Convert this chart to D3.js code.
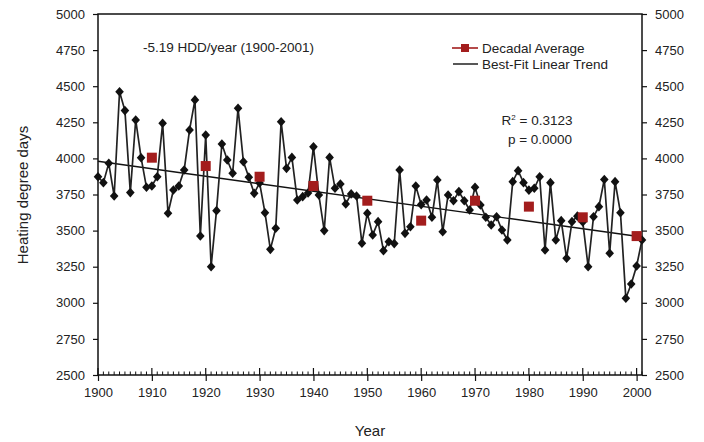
<!DOCTYPE html>
<html><head><meta charset="utf-8">
<script src="https://cdn.jsdelivr.net/npm/d3@7"></script>
<style>
html,body{margin:0;padding:0;background:#fff;}
svg text{font-family:"Liberation Sans",Arial,Helvetica,sans-serif;fill:#222;}
</style></head>
<body>
<svg id="chart" width="704" height="442"></svg>
<script>
const years = d3.range(1900, 2002);
const hdd = [
3873,3832,3966,3740,4462,4331,3763,4266,4005,3800,
3809,3873,4243,3620,3781,3809,3920,4197,4405,3463,
4162,3250,3638,4100,3989,3897,4347,3977,3870,3758,
3830,3624,3370,3516,4254,3931,4007,3712,3735,3760,
4080,3747,3500,4007,3793,3823,3684,3754,3740,3412,
3620,3470,3562,3361,3423,3410,3920,3481,3527,3809,
3680,3712,3592,3850,3492,3747,3707,3770,3707,3643,
3800,3677,3592,3539,3596,3504,3435,3839,3915,3832,
3780,3793,3873,3366,3832,3435,3569,3308,3562,3600,
3560,3250,3596,3666,3854,3343,3839,3624,3031,3130,
3255,3435];
const decadeYears = [1910,1920,1930,1940,1950,1960,1970,1980,1990,2000];
const decadeAvg = [4005,3947,3873,3809,3707,3569,3707,3666,3592,3462];
const trendYears = [1900, 2001];
const trendValues = [3980, 3456];
const yTicks = [2500,2750,3000,3250,3500,3750,4000,4250,4500,4750,5000];
const xTicks = [1900,1910,1920,1930,1940,1950,1960,1970,1980,1990,2000];

const svg = d3.select("#chart");
const L = 98, R = 642, T = 14, B = 375;
const x = d3.scaleLinear().domain([1900, 2001]).range([L, R]);
const y = d3.scaleLinear().domain([2500, 5000]).range([B, T]);

// frame
svg.append("rect").attr("x", L).attr("y", T).attr("width", R - L).attr("height", B - T)
  .attr("fill", "none").attr("stroke", "#111").attr("stroke-width", 1.5);

// left axis
const la = svg.append("g").attr("transform", `translate(${L},0)`)
  .call(d3.axisLeft(y).tickValues(yTicks).tickSize(5).tickPadding(8).tickFormat(d3.format("d")));
la.select(".domain").remove();
la.selectAll("line").attr("stroke", "#111").attr("stroke-width", 1.2);
la.selectAll("text").attr("font-size", 13);

// right axis
const ra = svg.append("g").attr("transform", `translate(${R},0)`)
  .call(d3.axisRight(y).tickValues(yTicks).tickSize(5).tickPadding(8).tickFormat(d3.format("d")));
ra.select(".domain").remove();
ra.selectAll("line").attr("stroke", "#111").attr("stroke-width", 1.2);
ra.selectAll("text").attr("font-size", 13);

// bottom axis
const ba = svg.append("g").attr("transform", `translate(0,${B})`)
  .call(d3.axisBottom(x).tickValues(xTicks).tickSize(6).tickPadding(7).tickFormat(d3.format("d")));
ba.select(".domain").remove();
ba.selectAll("line").attr("stroke", "#111").attr("stroke-width", 1.2);
ba.selectAll("text").attr("font-size", 13);
// major ticks upward
svg.append("g").selectAll("line").data(xTicks).join("line")
  .attr("x1", d => x(d)).attr("x2", d => x(d)).attr("y1", B).attr("y2", B - 7)
  .attr("stroke", "#111").attr("stroke-width", 1.2);
// minor ticks inward
svg.append("g").selectAll("line").data(years.filter(v => v % 10 !== 0)).join("line")
  .attr("x1", d => x(d)).attr("x2", d => x(d)).attr("y1", B).attr("y2", B - 3.5)
  .attr("stroke", "#111").attr("stroke-width", 1);

// trend line
svg.append("line")
  .attr("x1", x(trendYears[0])).attr("y1", y(trendValues[0]))
  .attr("x2", x(trendYears[1])).attr("y2", y(trendValues[1]))
  .attr("stroke", "#111").attr("stroke-width", 1.4);

// annual line
const pts = years.map((yr, i) => [yr, hdd[i]]);
svg.append("path").datum(pts)
  .attr("d", d3.line().x(d => x(d[0])).y(d => y(d[1])))
  .attr("fill", "none").attr("stroke", "#222").attr("stroke-width", 1.7);

// diamonds
const diamond = "M0,-4.8L4.3,0L0,4.8L-4.3,0Z";
svg.append("g").selectAll("path").data(pts).join("path")
  .attr("transform", d => `translate(${x(d[0])},${y(d[1])})`)
  .attr("d", diamond).attr("fill", "#111");

// decadal squares
svg.append("g").selectAll("rect").data(decadeYears.map((yr, i) => [yr, decadeAvg[i]])).join("rect")
  .attr("x", d => x(d[0]) - 5).attr("y", d => y(d[1]) - 5)
  .attr("width", 10).attr("height", 10).attr("fill", "#a31d1d");

// annotation
svg.append("text").attr("x", 143).attr("y", 52).attr("font-size", 13.5)
  .text("-5.19 HDD/year (1900-2001)");

// legend
svg.append("line").attr("x1", 452).attr("x2", 478).attr("y1", 48).attr("y2", 48)
  .attr("stroke", "#a31d1d").attr("stroke-width", 1.6);
svg.append("rect").attr("x", 461).attr("y", 44).attr("width", 8).attr("height", 8).attr("fill", "#a31d1d");
svg.append("text").attr("x", 482).attr("y", 53).attr("font-size", 13.5).text("Decadal Average");
svg.append("line").attr("x1", 453).attr("x2", 478).attr("y1", 64).attr("y2", 64)
  .attr("stroke", "#111").attr("stroke-width", 1.4);
svg.append("text").attr("x", 482).attr("y", 69).attr("font-size", 13.5).text("Best-Fit Linear Trend");

// stats
const st = svg.append("text").attr("x", 537).attr("y", 125).attr("font-size", 13.5).attr("text-anchor", "middle");
st.append("tspan").text("R");
st.append("tspan").attr("dy", -5).attr("font-size", 8).text("2");
st.append("tspan").attr("dy", 5).text(" = 0.3123");
svg.append("text").attr("x", 540).attr("y", 144).attr("font-size", 13.5).attr("text-anchor", "middle").text("p = 0.0000");

// axis titles
svg.append("text").attr("x", 370).attr("y", 436).attr("font-size", 15).attr("text-anchor", "middle").text("Year");
svg.append("text").attr("transform", "translate(28,195) rotate(-90)").attr("font-size", 15)
  .attr("text-anchor", "middle").text("Heating degree days");
</script>
</body></html>
